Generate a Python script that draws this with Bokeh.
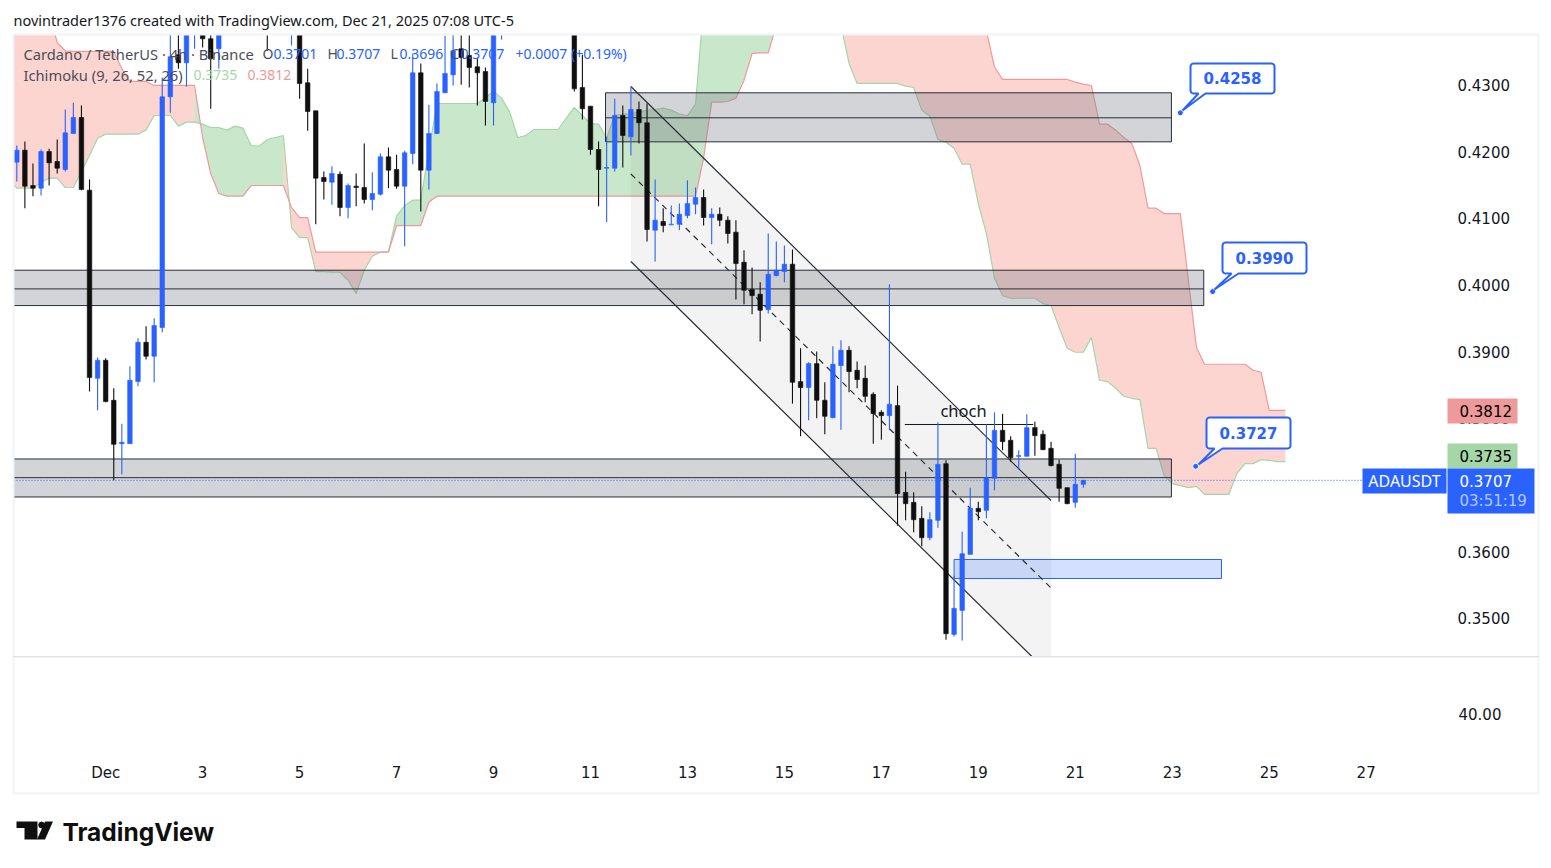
from bokeh.embed import file_html
from bokeh.resources import INLINE
from bokeh.plotting import figure
from bokeh.models import (BoxAnnotation, ColumnDataSource, FixedTicker, Label,
                          NumeralTickFormatter, PolyAnnotation, Range1d)
import numpy as np

# ---------- data ----------
opens = [.4184,.4202,.4149,.4145,.4200,.4185,.4173,.4227,.4251,.4142,
         .3860,.3887,.3827,.3762,.3762,.3855,.3914,.3893,.3936,.4282,
         .4345,.4333,.4389,.4420,.4369,.4354,.4450,.4410,.4460,.4490,
         .4460,.4430,.4400,.4430,.4390,.4420,.4303,.4261,.4161,.4154,
         .4166,.4116,.4148,.4146,.4128,.4136,.4192,.4173,.4148,.4197,
         .4318,.4172,.4227,.4288,.4315,.4354,.4344,.4327,.4320,.4273,
         .4390,.4440,.4410,.4450,.4490,.4460,.4440,.4480,.4450,.4420,
         .4296,.4268,.4203,.4175,.4175,.4254,.4222,.4263,.4243,.4082,
         .4095,.4090,.4091,.4104,.4121,.4131,.4101,.4106,.4097,.4079,
         .4034,.3993,.3986,.3963,.4014,.4020,.4031,.3855,.3846,.3882,
         .3827,.3801,.3879,.3902,.3872,.3860,.3836,.3809,.3804,.3819,
         .3689,.3674,.3650,.3621,.3647,.3732,.3476,.3512,.3596,.3665,
         .3662,.3710,.3782,.3767,.3743,.3743,.3786,.3776,.3755,.3731,
         .3696,.3674,.3701]
highs = [.4209,.4215,.4182,.4203,.4204,.4218,.4263,.4273,.4269,.4158,
         .3891,.3890,.3845,.3792,.3878,.3920,.3938,.3950,.4311,.4381,
         .4377,.4410,.4430,.4440,.4385,.4425,.4470,.4480,.4500,.4510,
         .4480,.4450,.4445,.4445,.4440,.4440,.4324,.4261,.4170,.4178,
         .4170,.4152,.4167,.4212,.4169,.4197,.4206,.4195,.4201,.4347,
         .4332,.4270,.4302,.4374,.4377,.4389,.4384,.4341,.4326,.4420,
         .4450,.4460,.4470,.4510,.4500,.4480,.4495,.4490,.4470,.4435,
         .4345,.4268,.4215,.4222,.4279,.4269,.4297,.4275,.4272,.4158,
         .4115,.4119,.4122,.4157,.4146,.4143,.4115,.4116,.4103,.4097,
         .4052,.4026,.4004,.4077,.4065,.4059,.4053,.3905,.3884,.3900,
         .3854,.3908,.3917,.3908,.3885,.3879,.3839,.3812,.4001,.3849,
         .3720,.3689,.3668,.3659,.3794,.3737,.3564,.3630,.3696,.3675,
         .3791,.3809,.3807,.3773,.3752,.3806,.3795,.3782,.3765,.3738,
         .3696,.3747,.3707]
lows = [.4155,.4115,.4133,.4134,.4149,.4167,.4170,.4227,.4142,.3840,
        .3812,.3824,.3707,.3716,.3762,.3848,.3888,.3854,.3929,.4258,
        .4324,.4297,.4354,.4356,.4264,.4324,.4385,.4395,.4440,.4440,
        .4400,.4351,.4385,.4385,.4359,.4279,.4231,.4091,.4128,.4120,
        .4103,.4100,.4118,.4122,.4112,.4134,.4145,.4144,.4058,.4181,
        .4110,.4143,.4226,.4288,.4299,.4300,.4296,.4269,.4239,.4239,
        .4368,.4395,.4395,.4430,.4440,.4420,.4425,.4430,.4400,.4290,
        .4248,.4195,.4118,.4094,.4170,.4176,.4194,.4212,.4065,.4035,
        .4079,.4091,.4082,.4100,.4106,.4089,.4061,.4088,.4062,.3978,
        .3971,.3956,.3915,.3957,.4013,.4004,.3822,.3773,.3797,.3800,
        .3776,.3800,.3783,.3839,.3845,.3824,.3762,.3768,.3783,.3639,
        .3647,.3629,.3608,.3617,.3636,.3468,.3473,.3467,.3596,.3647,
        .3650,.3692,.3752,.3735,.3723,.3743,.3744,.3752,.3728,.3675,
        .3671,.3666,.3696]
closes = [.4202,.4148,.4145,.4200,.4183,.4175,.4228,.4251,.4143,.3861,
          .3887,.3825,.3761,.3764,.3857,.3914,.3893,.3939,.4282,.4342,
          .4333,.4396,.4420,.4369,.4339,.4410,.4410,.4460,.4490,.4460,
          .4430,.4400,.4430,.4400,.4420,.4302,.4260,.4160,.4155,.4167,
          .4116,.4149,.4146,.4128,.4137,.4192,.4172,.4148,.4198,.4318,
          .4172,.4227,.4290,.4317,.4351,.4341,.4326,.4318,.4275,.4396,
          .4440,.4410,.4450,.4490,.4460,.4440,.4480,.4450,.4420,.4294,
          .4264,.4203,.4173,.4176,.4254,.4224,.4263,.4243,.4083,.4097,
          .4089,.4091,.4106,.4122,.4131,.4101,.4106,.4097,.4077,.4032,
          .3992,.3984,.3962,.4016,.4022,.4031,.3854,.3846,.3882,.3827,
          .3803,.3881,.3902,.3870,.3858,.3833,.3807,.3804,.3821,.3687,
          .3672,.3648,.3621,.3648,.3731,.3477,.3515,.3597,.3665,.3660,
          .3711,.3782,.3765,.3741,.3744,.3786,.3774,.3753,.3729,.3695,
          .3672,.3701,.3707]

# Ichimoku leading spans, bars -1 .. 157
span_a = [.4157,
          .4145,.4145,.4145,.4154,.4160,.4160,.4146,.4146,.4170,.4194,
          .4220,.4226,.4226,.4226,.4226,.4226,.4232,.4254,.4254,.4254,
          .4238,.4244,.4244,.4241,.4236,.4236,.4232,.4238,.4235,.4209,
          .4208,.4218,.4221,.4224,.4086,.4071,.4071,.4020,.4020,.4019,
          .4019,.4007,.3987,.4022,.4043,.4049,.4050,.4103,.4119,.4127,
          .4127,.4202,.4272,.4272,.4272,.4272,.4272,.4272,.4281,.4290,
          .4280,.4259,.4221,.4224,.4233,.4233,.4233,.4233,.4250,.4266,
          .4254,.4242,.4241,.4220,.4254,.4256,.4257,.4259,.4262,.4263,
          .4265,.4262,.4256,.4254,.4271,.4438,.4480,.4510,.4530,.4550,
          .4550,.4560,.4580,.4580,.4580,.4560,.4560,.4540,.4520,.4500,
          .4480,.4450,.4389,.4332,.4302,.4302,.4302,.4302,.4302,.4302,
          .4298,.4296,.4262,.4253,.4218,.4214,.4205,.4181,.4181,.4122,
          .4077,.4010,.3984,.3980,.3980,.3980,.3980,.3972,.3969,.3936,
          .3905,.3899,.3899,.3921,.3857,.3855,.3845,.3833,.3830,.3828,
          .3755,.3755,.3714,.3702,.3699,.3696,.3698,.3686,.3686,.3686,
          .3686,.3717,.3732,.3732,.3738,.3737,.3735,.3735]
span_b = [.4430,
          .4430,.4430,.4430,.4430,.4411,.4363,.4351,.4350,.4350,.4350,
          .4350,.4350,.4350,.4324,.4305,.4305,.4305,.4299,.4299,.4299,
          .4299,.4299,.4299,.4221,.4167,.4137,.4133,.4133,.4133,.4149,
          .4149,.4149,.4149,.4149,.4116,.4101,.4101,.4049,.4049,.4049,
          .4049,.4049,.4049,.4049,.4049,.4049,.4049,.4089,.4089,.4089,
          .4089,.4124,.4133,.4133,.4133,.4133,.4133,.4133,.4133,.4133,
          .4133,.4133,.4133,.4133,.4133,.4133,.4133,.4133,.4133,.4133,
          .4133,.4133,.4133,.4133,.4133,.4133,.4133,.4133,.4133,.4133,
          .4133,.4133,.4133,.4133,.4133,.4190,.4274,.4274,.4275,.4280,
          .4307,.4347,.4348,.4348,.4389,.4430,.4470,.4490,.4490,.4510,
          .4510,.4530,.4550,.4560,.4560,.4560,.4540,.4530,.4520,.4520,
          .4510,.4500,.4490,.4480,.4470,.4460,.4450,.4430,.4420,.4400,
          .4381,.4327,.4308,.4308,.4308,.4308,.4308,.4308,.4308,.4308,
          .4308,.4304,.4301,.4299,.4241,.4241,.4232,.4221,.4212,.4179,
          .4115,.4115,.4107,.4107,.4107,.4007,.3906,.3881,.3881,.3881,
          .3881,.3881,.3881,.3872,.3869,.3812,.3812,.3812]

zone_left = [72.86, -1, -1]
zone_right = [142.9, 146.9, 142.9]
zone_top = [.4288, .4022, .3739]
zone_mid = [.42505, .3994, .3711]
zone_bottom = [.42145, .3969, .3682]

channel_x = [76, 128]
channel_upper = [.42975, .36767]
channel_mid = [.41663, .35456]
channel_lower = [.40351, .34144]

choch_x = [109.9, 125.8]
choch_price = [.37907, .37907]

order_left, order_right = [116, 149.1]
order_top, order_bottom = [.35883, .35598]

callout_prices = [.4258, .3990, .3728]
callout_text = ["0.4258", "0.3990", "0.3727"]
callout_x = [144.0, 148.0, 145.9]

last_price = .3707
y_ticks = [.35, .36, .37, .38, .39, .40, .41, .42, .43]
x_ticks = [11, 23, 35, 47, 59, 71, 83, 95, 107, 119, 131, 143, 155, 167]
x_tick_labels = ["Dec", "3", "5", "7", "9", "11", "13", "15", "17", "19", "21", "23", "25", "27"]

# ---------- page pixel -> chart coordinates, for the ranges ----------
def dx(px):
    return (px - 16.3) / 8.08

def dy(py):
    return 0.44264 - py * 0.00014993

BLUE = "#2962ff"
BLACK = "#0f0f0f"
INK = "#131722"
LEG = "#4a4e58"
GREY = "#787b86"
MAIN_FONT = "Noto Sans"
NUM_FONT = "DejaVu Sans"
W, H = 1545, 860
CEILING = dy(6)   # values above the visible pane stop here, under the white margin

p = figure(width=W, height=H, output_backend="svg", toolbar_location=None,
           x_range=Range1d(dx(0), dx(W)), y_range=Range1d(dy(H), dy(0)),
           y_axis_location="right", min_border_left=0, min_border_right=0,
           min_border_top=0, min_border_bottom=0, tools="")
p.grid.visible = False
p.outline_line_color = None
p.background_fill_color = "white"
p.border_fill_color = "white"

p.yaxis.ticker = FixedTicker(ticks=y_ticks)
p.yaxis.formatter = NumeralTickFormatter(format="0.0000")
p.yaxis.fixed_location = dx(1442)
p.yaxis.major_label_standoff = 9
p.xaxis.ticker = FixedTicker(ticks=x_ticks)
p.xaxis.major_label_overrides = dict(zip(x_ticks, x_tick_labels))
p.xaxis.fixed_location = dy(656)
p.xaxis.major_label_standoff = 101
for ax in (p.xaxis, p.yaxis):
    ax.axis_line_color = None
    ax.major_tick_line_color = None
    ax.minor_tick_line_color = None
    ax.major_label_text_color = INK
    ax.major_label_text_font = NUM_FONT
    ax.major_label_text_font_size = "15px"

# ---------- Ichimoku cloud ----------
kx = np.arange(-1, len(span_a) - 1)
a = np.minimum(span_a, CEILING)
b = np.minimum(span_b, CEILING)
is_green = np.array(span_a) > np.array(span_b)
for green in (True, False):
    xs, ys = [], []
    i = 0
    while i < len(a) - 1:
        j = i + 1
        while j < len(a) - 1 and is_green[j + 1] == is_green[i + 1]:
            j += 1
        if bool(is_green[i + 1]) == green:
            xs.append(list(kx[i:j + 1]) + list(kx[i:j + 1][::-1]))
            ys.append(list(a[i:j + 1]) + list(b[i:j + 1][::-1]))
        i = j
    p.patches(xs, ys, fill_color="#4caf50" if green else "#f44336",
              fill_alpha=0.3 if green else 0.23, line_color=None)
p.line(kx, a, line_color="#a5d6a7", line_width=1.2)
p.line(kx, b, line_color="#ef9a9a", line_width=1.2)

# ---------- drawings under the candles ----------
p.patch(channel_x + channel_x[::-1], channel_upper + channel_lower[::-1],
        fill_color="#7b8583", fill_alpha=0.1, line_color=None)
p.quad(left=zone_left, right=zone_right, top=zone_top, bottom=zone_bottom,
       fill_color=GREY, fill_alpha=0.33, line_color="#2a2e39", line_width=1)
p.segment(zone_left, zone_mid, zone_right, zone_mid, line_color="#2a2e39", line_width=1)
p.quad(left=[order_left], right=[order_right], top=[order_top], bottom=[order_bottom],
       fill_color=BLUE, fill_alpha=0.2, line_color=BLUE, line_width=1)
p.line(channel_x, channel_upper, line_color="#2a2e39", line_width=1.2)
p.line(channel_x, channel_lower, line_color="#2a2e39", line_width=1.2)
p.line(channel_x, channel_mid, line_color="#2a2e39", line_width=1.2, line_dash=[6, 5])
p.line(choch_x, choch_price, line_color="#131722", line_width=1)
p.line([dx(13), dx(1362)], [last_price, last_price], line_color=BLUE, line_width=1, line_dash=[1, 2])

# ---------- candles ----------
idx = np.arange(len(opens))
col = [BLUE if c >= o else BLACK for o, c in zip(opens, closes)]
src = ColumnDataSource(dict(x=idx, o=np.minimum(opens, CEILING), h=np.minimum(highs, CEILING),
                            l=np.minimum(lows, CEILING), c=np.minimum(closes, CEILING), col=col))
p.segment("x", "h", "x", "l", source=src, line_color="col", line_width=1.1)
p.vbar("x", width=0.56, top="o", bottom="c", source=src, fill_color="col",
       line_color="col", line_width=0.6)
p.scatter(callout_x, callout_prices, size=6, fill_color=BLUE, line_color="white", line_width=1)

# ---------- annotation helpers, in page pixels ----------
def text(px, py, s, color=INK, size="14px", font=MAIN_FONT, align="left", style="normal"):
    p.add_layout(Label(x=px, y=py, x_units="canvas", y_units="canvas", text=s, text_color=color,
                       text_font=font, text_font_size=size, text_align=align,
                       text_baseline="middle", text_font_style=style))

def box(l, t, r, b, color, line=None, width=1):
    p.add_layout(BoxAnnotation(left=l, right=r, top=t, bottom=b, left_units="canvas",
                               right_units="canvas", top_units="canvas", bottom_units="canvas",
                               fill_color=color, fill_alpha=1 if color else 0,
                               line_color=line, line_alpha=1, line_width=width, level="annotation"))

def poly(pts, fill, line=None, width=1):
    p.add_layout(PolyAnnotation(xs=[float(q[0]) for q in pts], ys=[float(q[1]) for q in pts],
                                xs_units="canvas", ys_units="canvas", fill_color=fill, fill_alpha=1,
                                line_color=line, line_alpha=1, line_width=width))

# white margins around the price pane, which hide what runs past its edges
box(-5, -5, W + 5, 34, "white")
box(-5, 656, W + 5, 700, "white")
box(-5, -5, 13, H + 5, "white")

# frame of the whole chart and the pane separator
box(13, 34, 1538, 793, None, "#f0f3fa", 2)
box(13, 656, 1538, 656.5, "#e0e3eb", "#e0e3eb", 1)

# ---------- header, legend ----------
text(13, 19, "novintrader1376 created with TradingView.com, Dec 21, 2025 07:08 UTC-5", color=INK, size="14.5px")
text(23, 53, "Cardano / TetherUS · 4h · Binance", color=LEG, size="14.7px")
for x_, s_, c_ in [(262, "O", LEG), (273, "0.3701", BLUE), (327, "H", LEG), (336, "0.3707", BLUE),
                   (390, "L", LEG), (399, "0.3696", BLUE), (450, "C", LEG), (460, "0.3707", BLUE),
                   (515, "+0.0007 (+0.19%)", BLUE)]:
    text(x_, 53, s_, color=c_, size="14px")
text(23, 74, "Ichimoku (9, 26, 52, 26)", color=LEG, size="14.7px")
text(193, 74, "0.3735", color="#a5d6a7", size="14px")
text(247, 74, "0.3812", color="#ef9a9a", size="14px")
text(963, 410, "choch", color=INK, size="16.5px", align="center")

# ---------- callouts ----------
def rounded(l, t, r, b, rad, tail):
    pts = []
    for cx, cy, a0 in [(r - rad, t + rad, -90), (r - rad, b - rad, 0)]:
        for ang in np.radians(np.arange(a0, a0 + 91, 30)):
            pts.append((cx + rad * np.cos(ang), cy + rad * np.sin(ang)))
    pts += [(tail[2], b), (tail[0], tail[1]), (tail[3], b)]
    for cx, cy, a0 in [(l + rad, b - rad, 90), (l + rad, t + rad, 180)]:
        for ang in np.radians(np.arange(a0, a0 + 91, 30)):
            pts.append((cx + rad * np.cos(ang), cy + rad * np.sin(ang)))
    return pts

boxes = [(1190, 63, 1274, 93, (1182, 110), 1205, 1198),
         (1222, 242, 1306, 273, (1214, 289), 1238, 1231),
         (1206, 417, 1290, 448, (1198, 464), 1222, 1214)]
for (l, t, r, b_, tip, t1, t2), s in zip(boxes, callout_text):
    poly(rounded(l, t, r, b_, 3, (tip[0], tip[1], t1, t2)), "white", BLUE, 2)
    text((l + r) / 2, (t + b_) / 2 - 0.5, s, color=BLUE, size="15px", font=NUM_FONT, align="center", style="bold")

# ---------- price tags ----------
box(1447, 398, 1517, 423, "#ef9a9a")
box(1447, 443, 1517, 468, "#a5d6a7")
box(1447, 468, 1534, 513, BLUE)
box(1362, 468, 1446, 493, BLUE)
text(1459, 410, "0.3812", color="#000000", size="15px", font=NUM_FONT)
text(1459, 455, "0.3735", color="#000000", size="15px", font=NUM_FONT)
text(1459, 480, "0.3707", color="#ffffff", size="15px", font=NUM_FONT)
text(1459, 500, "03:51:19", color="#b4c8ff", size="15px", font=NUM_FONT)
text(1404, 480, "ADAUSDT", color="#ffffff", size="16px", font=MAIN_FONT, align="center")
text(1458, 713, "40.00", color=INK, size="15px", font=NUM_FONT)

# ---------- logo ----------
poly([(16, 821), (37, 821), (37, 839), (24, 839), (24, 827.5), (16, 827.5)], BLACK)
poly([(44.5, 821), (52.5, 821), (44.5, 839), (36.5, 839)], BLACK)
th = np.radians(np.arange(0, 360, 45))
poly([(41 + 3.4 * np.cos(u), 824.5 + 3.4 * np.sin(u)) for u in th], BLACK)
text(62, 831, "TradingView", color=BLACK, size="24.5px", font="Inter", style="bold")

open("out.html", "w").write(file_html(p, INLINE))
